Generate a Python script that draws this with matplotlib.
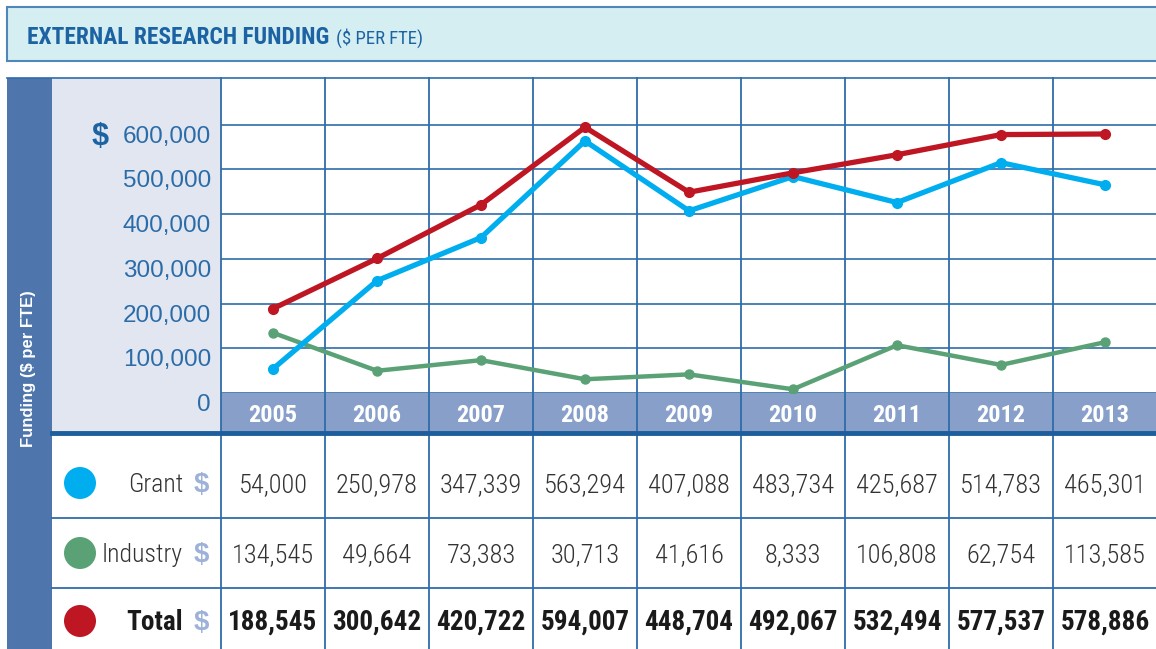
import matplotlib.pyplot as plt
import matplotlib.transforms as mtransforms
from matplotlib.patches import Rectangle, Circle

years = ['2005', '2006', '2007', '2008', '2009', '2010', '2011', '2012', '2013']
grant = [54000, 250978, 347339, 563294, 407088, 483734, 425687, 514783, 465301]
industry = [134545, 49664, 73383, 30713, 41616, 8333, 106808, 62754, 113585]
total = [188545, 300642, 420722, 594007, 448704, 492067, 532494, 577537, 578886]
row_names = ['Grant', 'Industry', 'Total']
y_ticks = [0, 100000, 200000, 300000, 400000, 500000, 600000]

c_grant = '#00aeef'
c_industry = '#5aa276'
c_total = '#be1622'
blue = '#1c63a3'
grid_blue = '#2f6ca9'
sans = ['Liberation Sans', 'DejaVu Sans']
cond = ['Roboto Condensed', 'Liberation Sans', 'DejaVu Sans']

W, H = 1156, 649
fig = plt.figure(figsize=(W / 100, H / 100), dpi=100)

# background layer in pixel coordinates
bg = fig.add_axes([0, 0, 1, 1])
bg.set_xlim(0, W)
bg.set_ylim(H, 0)
bg.axis('off')

# header box
bg.add_patch(Rectangle((7, 7), 1170, 54, facecolor='#d5eef1', edgecolor='#4f88b8', lw=1.5))
t1 = bg.text(27, 44, 'EXTERNAL RESEARCH FUNDING', fontsize=16.8, fontweight='bold',
             color=blue, family=cond, va='baseline')
fig.canvas.draw()
bb = t1.get_window_extent()
x_end = bg.transData.inverted().transform((bb.x1, bb.y0))[0]
bg.text(x_end + 7, 44, '($ PER FTE)', fontsize=13.5, color=blue, family=cond, va='baseline')

# panels
col_x0, col_w = 221, 104
bg.add_patch(Rectangle((7, 78), 45, H - 78, facecolor='#4e76ad', lw=0))
bg.add_patch(Rectangle((52, 78), col_x0 - 52, 355, facecolor='#e1e6f1', lw=0))
bg.add_patch(Rectangle((col_x0, 393), W - col_x0, 40, facecolor='#88a0c9', lw=0))
bg.plot([7, W], [78, 78], color=grid_blue, lw=1.2)
for i in range(len(years) + 1):
    xx = col_x0 + col_w * i
    bg.plot([xx, xx], [78, H], color=grid_blue, lw=1.3)
for yy in [518, 588]:
    bg.plot([52, W], [yy, yy], color=grid_blue, lw=1.3)
bg.plot([52, W], [433, 433], color='#1d5e9c', lw=3.5)

bg.text(29, 369, 'Funding ($ per FTE)', rotation=90, color='white', fontweight='bold',
        fontsize=12, ha='center', va='center', family=sans)
bg.text(100, 137, '$', fontsize=22, fontweight='bold', color=blue, ha='center', va='center',
        family=sans)

# chart
ax = fig.add_axes([col_x0 / W, 1 - 393 / H, 9 * col_w / W, 315 / H])
ax.patch.set_alpha(0)
xs = list(range(len(years)))
ax.plot(xs, industry, color=c_industry, lw=3.2, marker='o', ms=6.5, zorder=3)
ax.plot(xs, grant, color=c_grant, lw=3.8, marker='o', ms=7, zorder=4)
ax.plot(xs, total, color=c_total, lw=3.8, marker='o', ms=7, zorder=5)
ax.set_xlim(-0.5, len(years) - 0.5)
ax.set_ylim(0, 704000)
ax.set_yticks(y_ticks)
ax.yaxis.grid(True, color=grid_blue, lw=1.2)
ax.set_axisbelow(True)
ax.set_yticklabels([])
ax.set_xticks(xs, years)
ax.tick_params(length=0)
ax.tick_params(axis='x', pad=8, labelsize=17.5, labelcolor='white')
for lab in ax.get_xticklabels():
    lab.set_fontweight('bold')
    lab.set_family(cond)
for s in ax.spines.values():
    s.set_visible(False)

ylab_tr = mtransforms.offset_copy(ax.get_yaxis_transform(), fig=fig, x=-10, y=-18, units='dots')
for v in y_ticks:
    ax.text(0, v, f'{v:,}', transform=ylab_tr, ha='right', va='baseline', fontsize=17.5,
            color='#2b6ca8', family=sans, clip_on=False)

# table
rows = [grant, industry, total]
row_colors = [c_grant, c_industry, c_total]
row_base = [492, 562, 630]
for name, vals, c, yb in zip(row_names, rows, row_colors, row_base):
    bold = name == 'Total'
    weight = 'bold' if bold else 'light'
    color = '#1a1a1a' if bold else '#333333'
    bg.add_patch(Circle((80, yb - 9), 16, facecolor=c, lw=0))
    bg.text(183, yb, name, ha='right', va='baseline', fontsize=19.5 if bold else 18.5,
            fontweight=weight, color=color, family=cond)
    bg.text(201, yb, '$', ha='center', va='baseline', fontsize=20, fontweight='bold',
            color='#9eb1d8', family=sans)
    for i, v in enumerate(vals):
        bg.text(col_x0 + col_w * (i + 0.5), yb, f'{v:,}', ha='center', va='baseline',
                fontsize=19.5 if bold else 19, fontweight=weight, color=color, family=cond)

fig.savefig('out.png', dpi=100)
